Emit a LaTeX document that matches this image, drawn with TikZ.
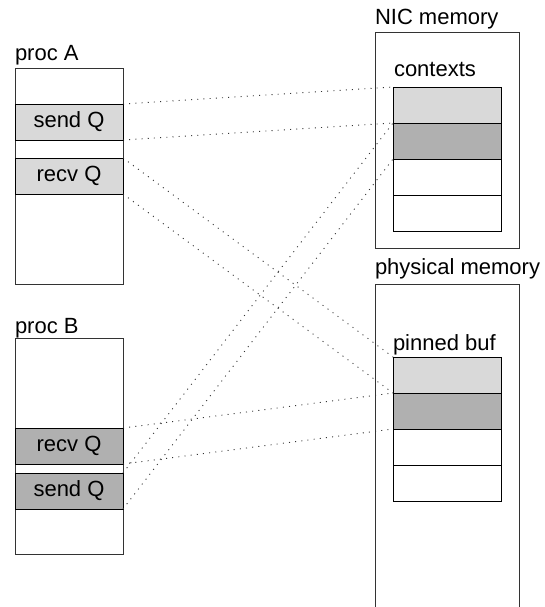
\documentclass[tikz,border=0pt]{standalone}
\usepackage{fontspec}
\setmainfont{Liberation Sans}
\usetikzlibrary{positioning}
\definecolor{lightq}{HTML}{D9D9D9}
\definecolor{darkq}{HTML}{B0B0B0}
\tikzset{
  every node/.style={font=\fontsize{22pt}{26pt}\selectfont, inner sep=0pt, outer sep=0pt},
  membox/.style={draw=black!80, line width=0.9pt, anchor=north west, minimum width=#1},
  membox/.default=108pt,
  slot/.style={draw=black, line width=0.8pt, anchor=north west, minimum width=108pt, minimum height=36pt},
  title/.style={anchor=base west},
  link/.style={draw=black!80, line width=0.9pt, dash pattern=on 1pt off 5.2pt}
}

\begin{document}
\begin{tikzpicture}[x=1pt,y=-1pt]
\useasboundingbox (0,0) rectangle (544,607);

% Proc A
\node[title] (labA) at (15,61) {proc A};
\node[membox, minimum height=216pt] (procA) at (15,68) {};
\node[slot, fill=lightq] (aSend) at (15,104) {send Q};
\node[slot, fill=lightq] (aRecv) at (15,158) {recv Q};

% Proc B
\node[title] (labB) at (15,333) {proc B};
\node[membox, minimum height=216pt] (procB) at (15,338) {};
\node[slot, fill=darkq] (bRecv) at (15,428) {recv Q};
\node[slot, fill=darkq] (bSend) at (15,473) {send Q};

% NIC memory
\node[title] (labNic) at (375,25) {NIC memory};
\node[membox=144pt, minimum height=216pt] (nic) at (375,32) {};
\node[title] (labCtx) at (394,77) {contexts};
\foreach \i/\c in {1/lightq,2/darkq,3/white,4/white} {
  \node[slot, fill=\c] (ctx\i) at (393,{87+36*(\i-1)}) {};
}

% Physical memory (runs off the bottom)
\node[title] (labPhys) at (375,274) {physical memory};
\draw[black!80, line width=0.9pt] (375,610) -- (375,284) -- (519,284) -- (519,610);
\node[title] (labPin) at (393,350) {pinned buf};
\foreach \i/\c in {1/lightq,2/darkq,3/white,4/white} {
  \node[slot, fill=\c] (pin\i) at (393,{357+36*(\i-1)}) {};
}

% Mappings
\draw[link] (aSend.north east) -- (ctx1.north west);
\draw[link] (aSend.south east) -- (ctx2.north west);
\draw[link] (aRecv.north east) -- (pin1.north west);
\draw[link] (aRecv.south east) -- (pin2.north west);
\draw[link] (bRecv.north east) -- (pin2.north west);
\draw[link] (bRecv.south east) -- (pin3.north west);
\draw[link] (bSend.north east) -- (ctx2.north west);
\draw[link] (bSend.south east) -- (ctx3.north west);

\end{tikzpicture}
\end{document}
